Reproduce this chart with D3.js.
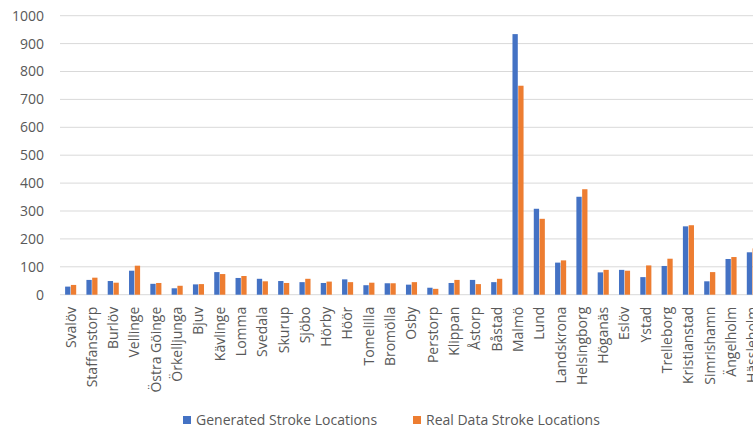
<!DOCTYPE html>
<html>
<head>
<meta charset="utf-8">
<script src="https://cdn.jsdelivr.net/npm/d3@7"></script>
<style>
  html, body { margin: 0; padding: 0; background: #fff; overflow: hidden; }
  svg { display: block; font-family: "Open Sans", sans-serif; }
</style>
</head>
<body>
<svg id="chart" width="753" height="431"></svg>
<script>
const categories = ["Svalöv","Staffanstorp","Burlöv","Vellinge","Östra Göinge","Örkelljunga","Bjuv","Kävlinge","Lomma","Svedala","Skurup","Sjöbo","Hörby","Höör","Tomelilla","Bromölla","Osby","Perstorp","Klippan","Åstorp","Båstad","Malmö","Lund","Landskrona","Helsingborg","Höganäs","Eslöv","Ystad","Trelleborg","Kristianstad","Simrishamn","Ängelholm","Hässleholm"];
const generated = [29,53,49,86,39,23,37,81,60,57,49,45,42,55,34,41,36,25,42,53,45,934,308,115,351,80,89,63,103,245,48,128,152];
const realData  = [35,61,43,104,42,32,38,74,67,48,42,57,47,45,43,41,45,21,53,38,57,749,272,123,378,89,86,105,129,249,81,135,166];
const seriesNames = ["Generated Stroke Locations","Real Data Stroke Locations"];
const seriesColors = ["#4472C4","#ED7D31"];
const yTicks = [0,100,200,300,400,500,600,700,800,900,1000];

const svg = d3.select("#chart");
const mLeft = 60, mRight = 763, mTop = 15.7, mBottom = 294.7;

const x0 = d3.scaleBand().domain(categories).range([mLeft, mRight]).paddingInner(0.48).paddingOuter(0.24);
const x1 = d3.scaleBand().domain([0,1]).range([0, x0.bandwidth()]).paddingInner(0.08);
const y = d3.scaleLinear().domain([0,1000]).range([mBottom, mTop]);

// gridlines
svg.append("g").selectAll("line").data(yTicks).join("line")
  .attr("x1", mLeft).attr("x2", 753)
  .attr("y1", d => y(d)).attr("y2", d => y(d))
  .attr("stroke", "#d9d9d9").attr("stroke-width", 1);

// y axis labels
const yAxis = d3.axisLeft(y).tickValues(yTicks).tickFormat(d3.format("d")).tickSize(0).tickPadding(0);
const gy = svg.append("g").attr("transform", "translate(44,0)").call(yAxis);
gy.select(".domain").remove();
gy.selectAll("text").attr("fill", "#595959").attr("font-size", "14px")
  .attr("font-family", "'Open Sans', sans-serif");

// bars
const series = [generated, realData];
const groups = svg.append("g").selectAll("g").data(categories).join("g")
  .attr("transform", d => `translate(${x0(d)},0)`);
groups.selectAll("rect").data((d, i) => series.map((s, k) => ({k, v: s[i]}))).join("rect")
  .attr("x", d => x1(d.k))
  .attr("width", x1.bandwidth())
  .attr("y", d => y(d.v))
  .attr("height", d => y(0) - y(d.v))
  .attr("fill", d => seriesColors[d.k]);

// x axis labels
const xAxis = d3.axisBottom(x0).tickSize(0).tickPadding(0);
const gx = svg.append("g").attr("transform", `translate(0,${mBottom})`).call(xAxis);
gx.select(".domain").remove();
gx.selectAll("text")
  .attr("fill", "#595959").attr("font-size", "14px")
  .attr("font-family", "'Open Sans', sans-serif")
  .attr("text-anchor", "end")
  .attr("transform", "rotate(-90)")
  .attr("x", -12).attr("y", 0).attr("dy", "0.35em");

// legend
const legendItems = [{x: 183, t: 0}, {x: 413, t: 1}];
const lg = svg.append("g");
legendItems.forEach(it => {
  lg.append("rect").attr("x", it.x).attr("y", 416).attr("width", 8).attr("height", 8)
    .attr("fill", seriesColors[it.t]);
  lg.append("text").attr("x", it.x + 13).attr("y", 420).attr("dy", "0.35em")
    .attr("fill", "#595959").attr("font-size", "14px")
    .text(seriesNames[it.t]);
});
</script>
</body>
</html>
